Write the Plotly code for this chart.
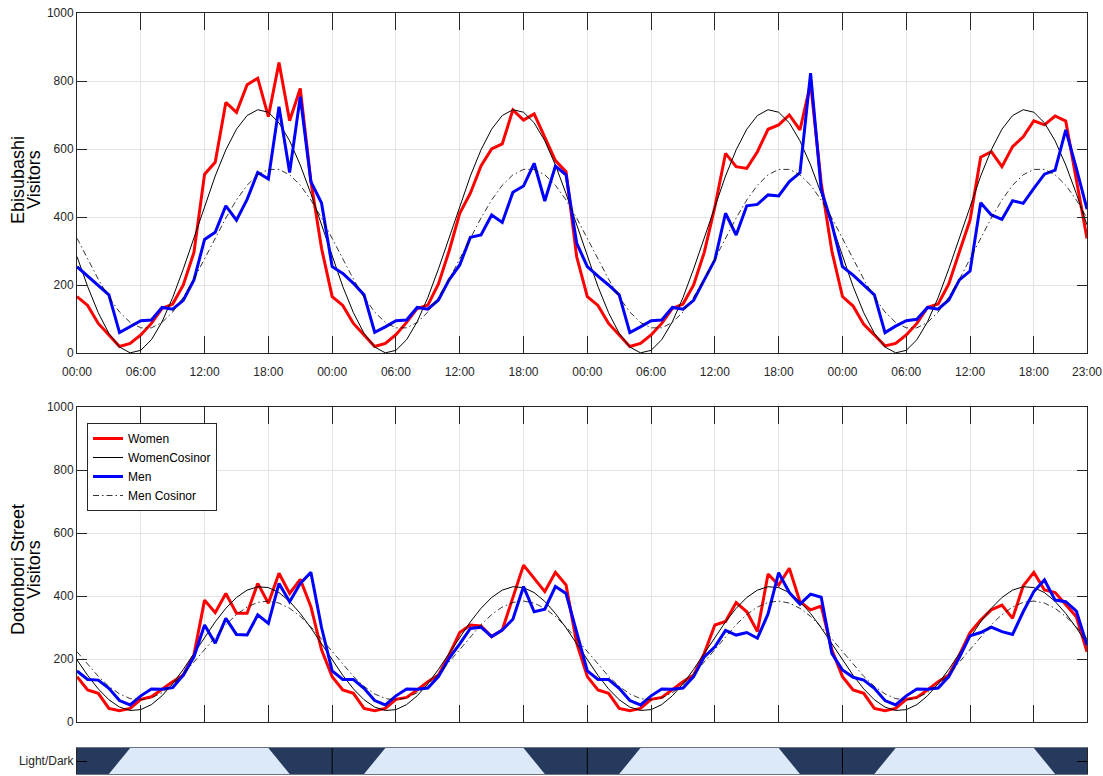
import math
import plotly.graph_objects as go

# ---------------- data ----------------
hours = list(range(96))
tick_hours = [0, 6, 12, 18, 24, 30, 36, 42, 48, 54, 60, 66, 72, 78, 84, 90, 95]
tick_labels = ["00:00", "06:00", "12:00", "18:00", "00:00", "06:00", "12:00", "18:00",
               "00:00", "06:00", "12:00", "18:00", "00:00", "06:00", "12:00", "18:00", "23:00"]

ebisu_women = [166, 140, 87, 53, 19, 28, 53, 87, 131, 144, 200, 296,
               526, 561, 737, 708, 789, 808, 695, 854, 683, 778, 505, 308,
               166, 140, 87, 53, 19, 28, 54, 90, 131, 141, 203, 300,
               411, 470, 550, 600, 615, 715, 685, 703, 636, 566, 533, 283,
               166, 140, 87, 53, 19, 28, 53, 87, 131, 144, 200, 296,
               430, 587, 548, 543, 592, 658, 671, 700, 656, 793, 500, 300,
               166, 138, 84, 53, 21, 28, 53, 87, 134, 144, 203, 298,
               391, 576, 592, 548, 607, 636, 683, 671, 697, 682, 509, 337]

ebisu_men = [254, 226, 200, 171, 60, 77, 95, 97, 134, 129, 155, 215,
             334, 355, 433, 391, 452, 531, 512, 724, 531, 754, 504, 441,
             254, 234, 205, 171, 61, 77, 95, 97, 134, 129, 156, 215,
             259, 340, 347, 406, 384, 473, 491, 558, 447, 550, 524, 323,
             254, 226, 200, 171, 60, 77, 95, 97, 134, 129, 155, 215,
             274, 411, 347, 433, 437, 465, 462, 504, 530, 823, 480, 380,
             254, 229, 200, 171, 60, 79, 95, 99, 134, 129, 156, 215,
             241, 442, 406, 393, 448, 440, 484, 526, 538, 656, 543, 423]

doton_women = [144, 102, 91, 43, 36, 43, 72, 80, 104, 128, 149, 213,
               387, 347, 408, 345, 345, 440, 377, 472, 408, 453, 366, 229,
               144, 102, 91, 43, 36, 43, 72, 78, 102, 128, 149, 213,
               284, 308, 305, 271, 292, 393, 498, 456, 414, 475, 435, 250,
               144, 102, 91, 43, 36, 43, 72, 78, 102, 128, 149, 218,
               308, 319, 379, 350, 287, 470, 435, 488, 382, 356, 368, 229,
               144, 102, 91, 43, 36, 43, 72, 78, 102, 128, 149, 213,
               284, 324, 356, 371, 329, 432, 475, 419, 411, 371, 334, 223]

doton_men = [162, 135, 133, 107, 68, 54, 83, 105, 104, 109, 149, 207,
             308, 250, 329, 278, 276, 340, 313, 440, 382, 440, 475, 300,
             162, 135, 135, 107, 68, 54, 83, 105, 104, 108, 144, 202,
             248, 297, 301, 271, 292, 326, 430, 350, 358, 430, 408, 282,
             162, 135, 135, 107, 68, 54, 83, 105, 104, 108, 144, 207,
             239, 291, 276, 284, 266, 343, 474, 411, 374, 406, 396, 218,
             165, 142, 133, 107, 68, 54, 83, 105, 104, 108, 144, 205,
             274, 284, 301, 287, 278, 350, 414, 451, 387, 382, 352, 244]

# cosinor fit parameters (MESOR, amplitude, acrophase hour)
cosinor_series = ["ebisu_women", "ebisu_men", "doton_women", "doton_men"]
cosinor_mesor = [358, 307, 233, 227]
cosinor_amplitude = [358, 235, 197, 157]
cosinor_acrophase = [17.2, 18.5, 17.3, 17.9]
cosinor_period = 24

# light/dark schedule (hours): dark begins / ends at the top edge, twilight lasts 2 h
night_start = [-6, 18, 42, 66, 90]
night_end = [5, 29, 53, 77, 101]
twilight_hours = 2
midnights = [24, 48, 72]


def cosinor(i):
    m, a, p = cosinor_mesor[i], cosinor_amplitude[i], cosinor_acrophase[i]
    return [m + a * math.cos(2 * math.pi * (h - p) / cosinor_period) for h in hours]


# ---------------- styles ----------------
RED = "#ff0000"
BLUE = "#0000ff"
INK = "#262626"
GRID = "#e3e3e3"
DARK = "#263a5e"
LIGHT = "#dce9f8"
FONT = "Liberation Sans, Arial, sans-serif"

fig = go.Figure()

panels = [("x", "y", ebisu_women, ebisu_men, 0, 1, True),
          ("x2", "y2", doton_women, doton_men, 2, 3, False)]
for xa, ya, women, men, iw, im, hide in panels:
    fig.add_trace(go.Scatter(x=hours, y=women, xaxis=xa, yaxis=ya, mode="lines",
                             line=dict(color=RED, width=3), name="Women", showlegend=not hide))
    fig.add_trace(go.Scatter(x=hours, y=cosinor(iw), xaxis=xa, yaxis=ya, mode="lines",
                             line=dict(color="#000000", width=1), name="WomenCosinor", showlegend=not hide))
    fig.add_trace(go.Scatter(x=hours, y=men, xaxis=xa, yaxis=ya, mode="lines",
                             line=dict(color=BLUE, width=3), name="Men", showlegend=not hide))
    fig.add_trace(go.Scatter(x=hours, y=cosinor(im), xaxis=xa, yaxis=ya, mode="lines",
                             line=dict(color="#000000", width=0.8, dash="6px,3px,1.5px,3px"),
                             name="Men Cosinor", showlegend=not hide))

# light / dark bar: dark trapezoids
for s, e in zip(night_start, night_end):
    fig.add_trace(go.Scatter(x=[s, e, e - twilight_hours, s + twilight_hours, s],
                             y=[1, 1, 0, 0, 1], xaxis="x3", yaxis="y3", mode="lines",
                             fill="toself", fillcolor=DARK, line=dict(width=0, color=DARK),
                             showlegend=False, hoverinfo="skip"))

shapes = []
for m in midnights:
    shapes.append(dict(type="line", xref="x3", yref="y3 domain", x0=m, x1=m, y0=0, y1=1,
                       line=dict(color="#000000", width=1), layer="above"))
# white panels for the two charts (the bar keeps the light fill of plot_bgcolor)
for ax in ["x", "x2"]:
    ya = "y" if ax == "x" else "y2"
    shapes.append(dict(type="rect", xref=ax + " domain", yref=ya + " domain", x0=0, x1=1,
                       y0=0, y1=1, fillcolor="white", line=dict(width=0), layer="below"))

W, H = 1103, 776
ml, mr, mt, mb = 77, 16, 13, 2
pw = W - ml - mr
ph = H - mt - mb


def py(ypx):  # pixel -> paper fraction (vertical)
    return (H - mb - ypx) / ph


def px(xpx):  # pixel -> paper fraction (horizontal)
    return (xpx - ml) / pw


def dom(top_px, bot_px):
    return [py(bot_px), py(top_px)]


tickfont = dict(family=FONT, size=12, color=INK)

xcommon = dict(range=[0, 95], tickvals=tick_hours, ticktext=tick_labels, showgrid=True,
               gridcolor=GRID, gridwidth=1, showline=True, linecolor=INK, linewidth=1,
               mirror="ticks", ticks="inside", ticklen=17, tickcolor=INK, zeroline=False,
               tickfont=tickfont, automargin=False, ticklabeloverflow="allow")
ycommon = dict(range=[0, 1000], tickvals=[0, 200, 400, 600, 800, 1000], showgrid=True,
               gridcolor=GRID, gridwidth=1, showline=True, linecolor=INK, linewidth=1,
               mirror="ticks", ticks="inside", ticklen=10, tickcolor=INK, zeroline=False,
               tickfont=tickfont, automargin=False, ticklabeloverflow="allow")

title_font = dict(family=FONT, size=18, color="#000000")
annotations = []
for txt, xpx, ypx in [("Ebisubashi", 18, 180), ("Visitors", 34, 180),
                      ("Dotonbori Street", 18, 570), ("Visitors", 34, 570)]:
    annotations.append(dict(text=txt, xref="paper", yref="paper", x=px(xpx), y=py(ypx),
                            textangle=-90, showarrow=False, xanchor="center", yanchor="middle",
                            font=title_font))

fig.update_layout(
    width=W, height=H,
    margin=dict(l=ml, r=mr, t=mt, b=mb, autoexpand=False),
    paper_bgcolor="white", plot_bgcolor=LIGHT,
    xaxis=dict(**xcommon, domain=[0, 1], anchor="y", showticklabels=True, ticklabelstandoff=8),
    yaxis=dict(**ycommon, domain=dom(13, 353), anchor="x"),
    xaxis2=dict(**xcommon, domain=[0, 1], anchor="y2", showticklabels=False),
    yaxis2=dict(**ycommon, domain=dom(407, 722), anchor="x2"),
    xaxis3=dict(range=[0, 95], domain=[0, 1], anchor="y3", showgrid=False, showticklabels=False,
                ticks="", showline=True, linecolor="#6b7280", mirror=True, zeroline=False,
                automargin=False, layer="above traces"),
    yaxis3=dict(range=[0, 1], domain=dom(748, 774), anchor="x3", tickvals=[0.5],
                ticktext=["Light/Dark"], ticks="inside", ticklen=10, tickcolor="#000000",
                showline=True, linecolor=INK, mirror="ticks", showgrid=False, zeroline=False,
                tickfont=tickfont, automargin=False, layer="above traces"),
    shapes=shapes,
    legend=dict(x=px(87), y=py(423), xanchor="left", yanchor="top",
                bgcolor="white", bordercolor=INK, borderwidth=1, itemwidth=30,
                font=dict(family=FONT, size=12, color="#000000"), tracegroupgap=0),
    annotations=annotations,
)

# remove the default page margin so the figure fills the window exactly
fig.write_html("out.html", config={"displayModeBar": False},
               post_script="document.body.style.margin='0';")
